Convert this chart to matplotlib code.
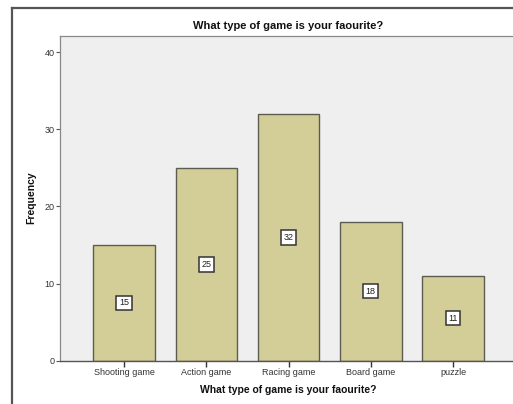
import matplotlib.pyplot as plt
from matplotlib.lines import Line2D

plt.rcParams['font.family'] = ['Liberation Sans', 'DejaVu Sans']

# data
games = ['Shooting game', 'Action game', 'Racing game', 'Board game', 'puzzle']
counts = [15, 25, 32, 18, 11]
yticks = [0, 10, 20, 30, 40]

W, H = 513, 404
fig = plt.figure(figsize=(W / 100, H / 100), dpi=100)

# outer chart frame, only top and left edges show (the picture is cropped)
fx, fy = 11.5 / W, 1 - 7.5 / H
fig.add_artist(Line2D([fx, 1.05], [fy, fy], transform=fig.transFigure, color='#555555', linewidth=1.6))
fig.add_artist(Line2D([fx, fx], [-0.05, fy], transform=fig.transFigure, color='#555555', linewidth=1.6))

ax = fig.add_axes([60 / W, 1 - 360.7 / H, 1 - 60 / W, (360.7 - 36) / H])
ax.set_facecolor('#efefef')

x = range(len(games))
ax.bar(x, counts, width=0.75, color='#d3ce97', edgecolor='#5c5c50', linewidth=1.0, zorder=2)

for i, c in zip(x, counts):
    ax.text(i, c / 2, str(c), ha='center', va='center', fontsize=6.5, color='#222222',
            bbox=dict(boxstyle='square,pad=0.3', facecolor='white', edgecolor='#333333', linewidth=1.1),
            zorder=3)

ax.set_xlim(-0.78, 4.73)
ax.set_ylim(0, 42.1)
ax.set_yticks(yticks)
ax.set_xticks(list(x))
ax.set_xticklabels(games)
ax.tick_params(axis='y', length=3, width=0.8, color='#555555', labelsize=6.5, labelcolor='#333333', pad=1)
ax.tick_params(axis='x', length=4, width=1.0, color='#333333', labelsize=6.5, labelcolor='#333333', pad=1)

for side in ['left', 'top']:
    ax.spines[side].set_color('#888888')
    ax.spines[side].set_linewidth(0.9)
ax.spines['bottom'].set_color('#555555')
ax.spines['bottom'].set_linewidth(1.0)
ax.spines['right'].set_visible(False)

fig.text(288 / W, 1 - 26 / H, 'What type of game is your faourite?', ha='center', va='center',
         fontsize=8, fontweight='bold', color='#111111')
fig.text(288 / W, 1 - 390 / H, 'What type of game is your faourite?', ha='center', va='center',
         fontsize=7.5, fontweight='bold', color='#111111')
fig.text(31 / W, 1 - 198 / H, 'Frequency', ha='center', va='center', rotation=90,
         fontsize=7.5, fontweight='bold', color='#111111')

fig.savefig('out.png', dpi=100)
